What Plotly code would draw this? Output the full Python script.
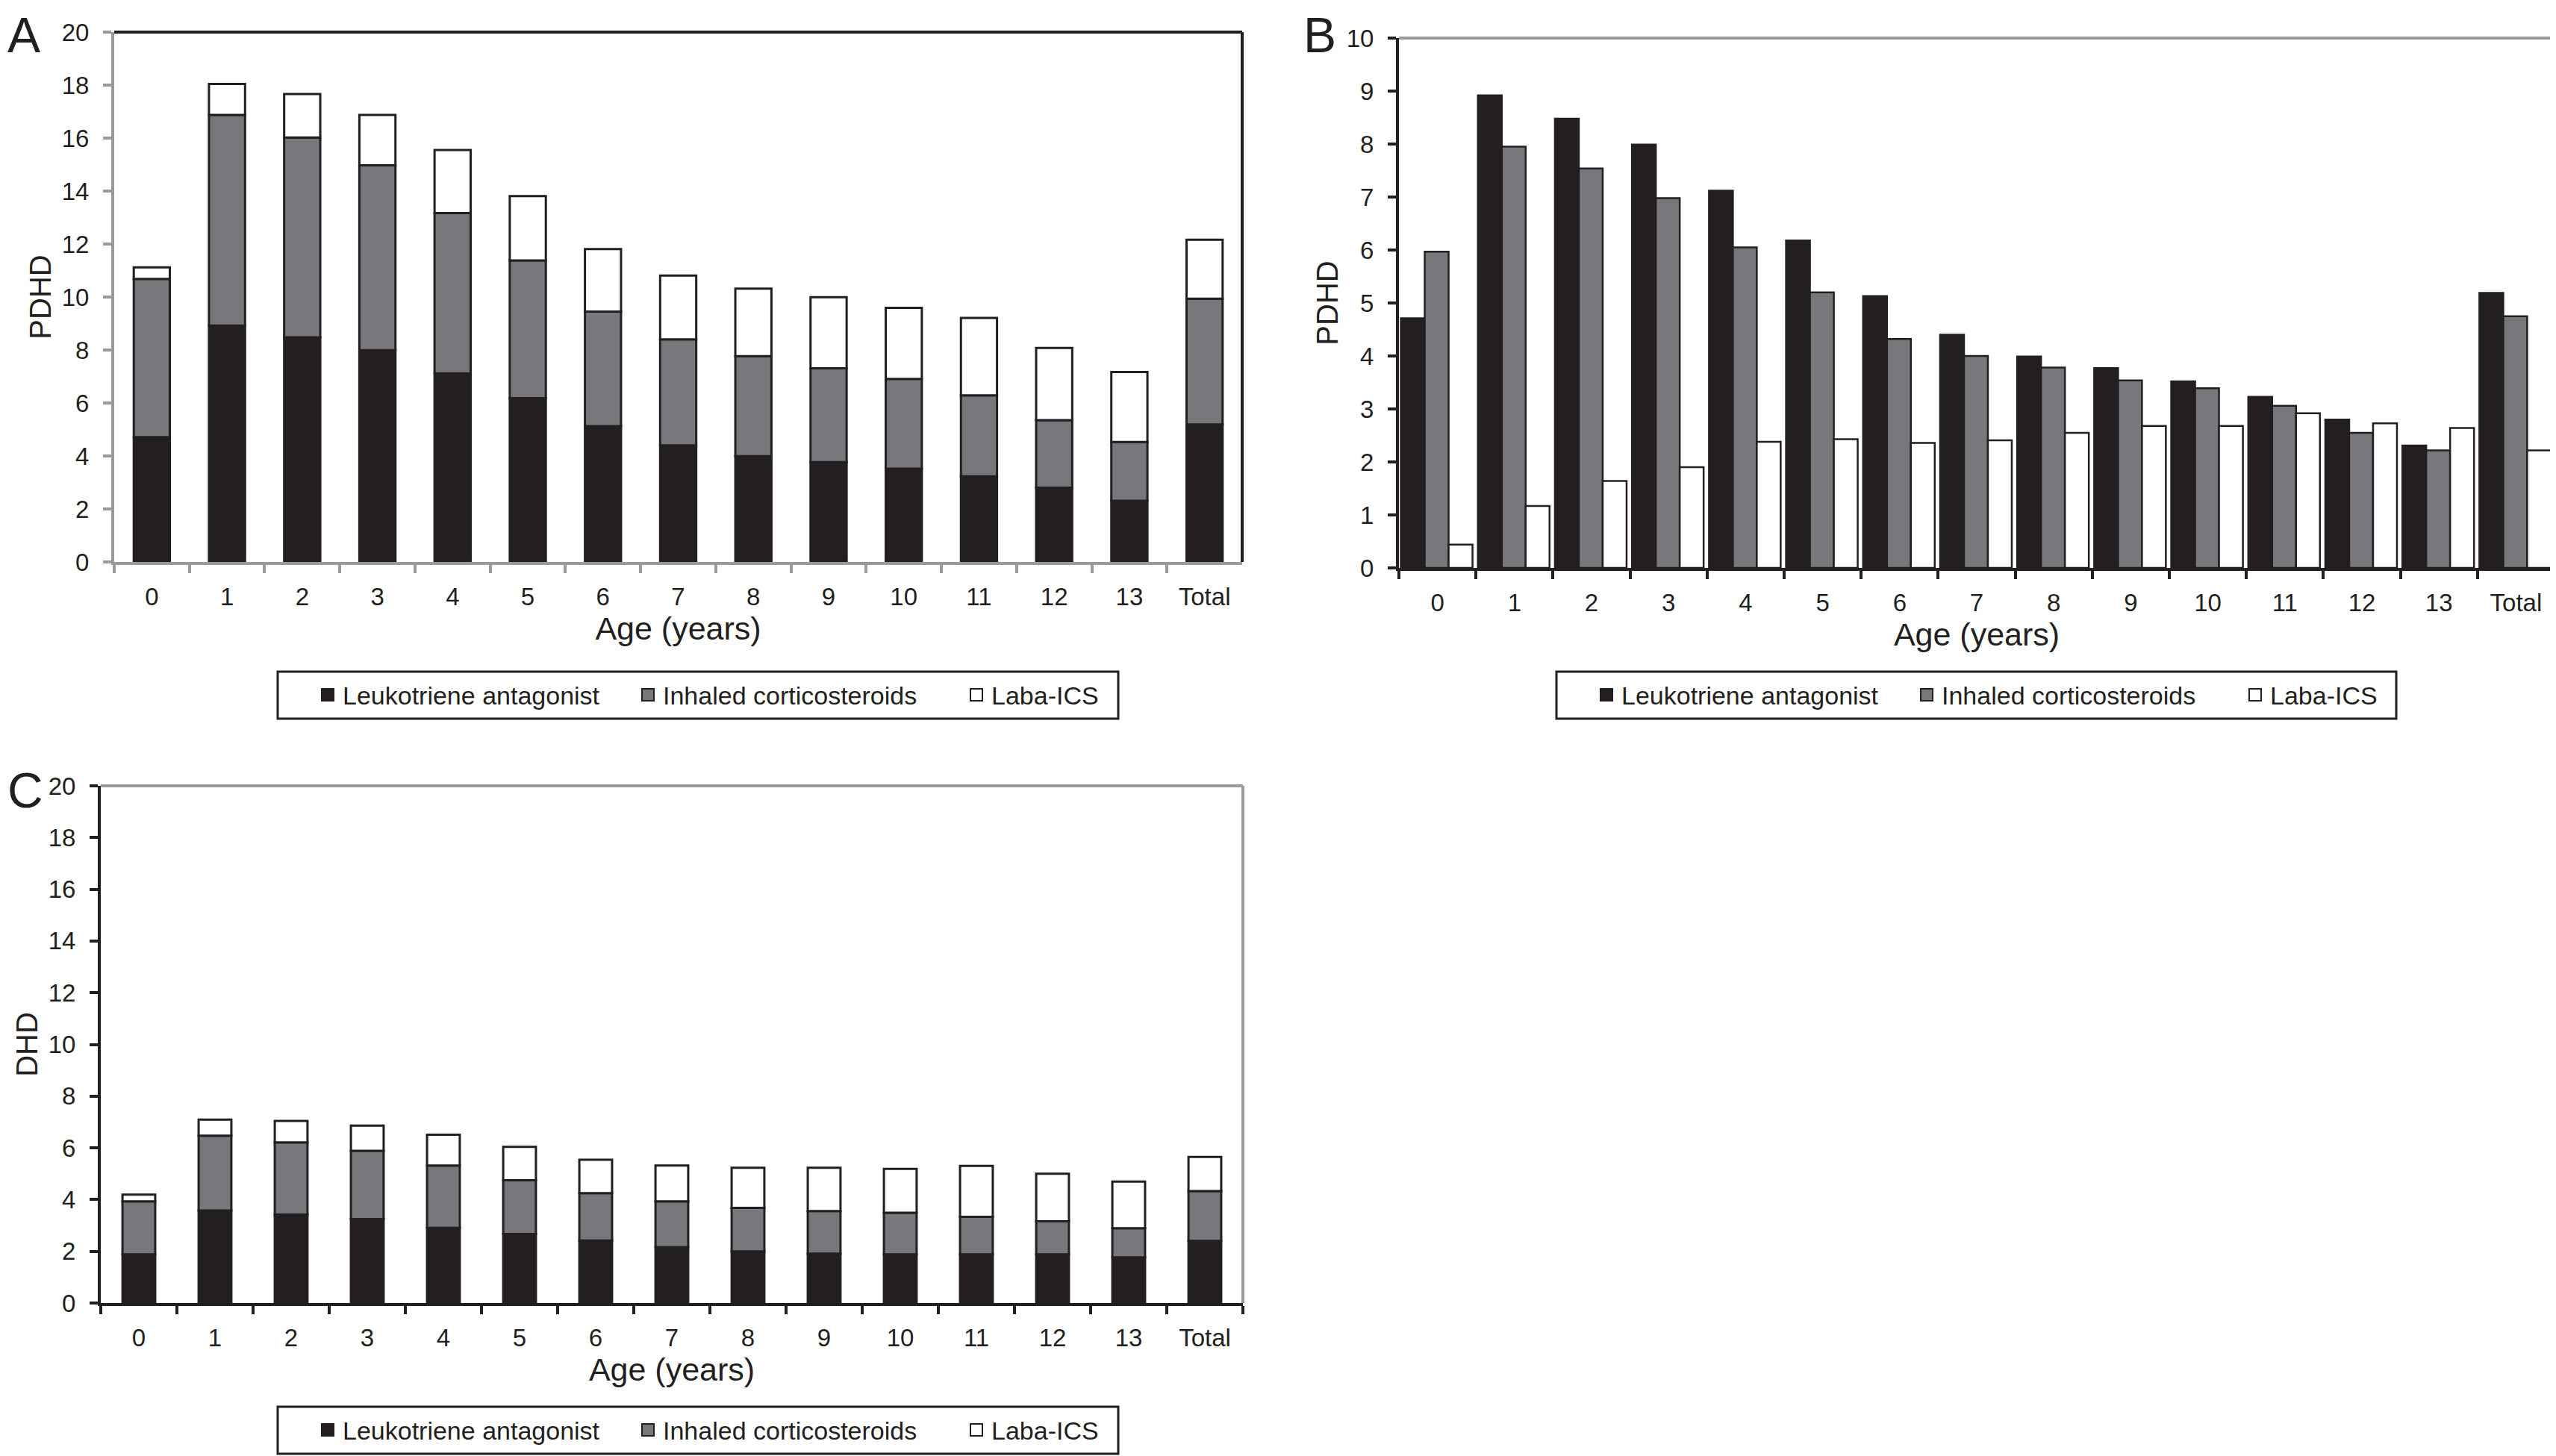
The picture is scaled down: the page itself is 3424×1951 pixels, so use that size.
import plotly.graph_objects as go

# ---------------- data ----------------
ages = ["0", "1", "2", "3", "4", "5", "6", "7", "8", "9", "10", "11", "12", "13", "Total"]
series_names = ["Leukotriene antagonist", "Inhaled corticosteroids", "Laba-ICS"]

# PDHD (panels A stacked, B grouped)
pdhd_lta = [4.71, 8.92, 8.48, 7.99, 7.12, 6.18, 5.13, 4.40, 3.99, 3.77, 3.52, 3.23, 2.80, 2.31, 5.19]
pdhd_ics = [5.97, 7.95, 7.54, 6.98, 6.05, 5.20, 4.32, 4.00, 3.78, 3.54, 3.39, 3.06, 2.55, 2.22, 4.75]
pdhd_laba = [0.44, 1.17, 1.64, 1.90, 2.38, 2.43, 2.36, 2.41, 2.55, 2.68, 2.68, 2.92, 2.73, 2.64, 2.22]

# DHD (panel C stacked)
dhd_lta = [1.88, 3.58, 3.42, 3.25, 2.91, 2.67, 2.42, 2.16, 2.00, 1.91, 1.88, 1.88, 1.88, 1.77, 2.40]
dhd_ics = [2.05, 2.89, 2.79, 2.64, 2.41, 2.08, 1.83, 1.77, 1.68, 1.65, 1.61, 1.45, 1.28, 1.12, 1.93]
dhd_laba = [0.26, 0.62, 0.83, 0.97, 1.19, 1.29, 1.29, 1.39, 1.55, 1.67, 1.70, 1.97, 1.84, 1.81, 1.32]

# ---------------- style ----------------
INK = "#231f20"
GREY = "#77787b"
FRAME = "#9a9a9c"
WHITE = "#ffffff"
FONT = "Liberation Sans, Arial, Helvetica, sans-serif"
fills = [INK, GREY, WHITE]
legend_widths = [384, 395, 150]

OFF = 8                      # page body margin
FW, FH = 3424 - OFF, 1951 - OFF


def px(X):
    return (X - OFF) / FW


def py(Y):
    return 1 - (Y - OFF) / FH


fig = go.Figure()


def legend_entries(xa, ya, legend):
    for name, c, lw in zip(series_names, fills, legend_widths):
        fig.add_trace(go.Scatter(
            x=[None], y=[None], mode="markers", name=name, xaxis=xa, yaxis=ya,
            marker=dict(symbol="square", size=16, color=c, line=dict(color=INK, width=2)),
            legend=legend, legendwidth=lw, showlegend=True, hoverinfo="skip"))


def stacked(xa, ya, vals, legend, width):
    base = [0.0] * len(ages)
    for name, v, c in zip(series_names, vals, fills):
        fig.add_trace(go.Bar(
            x=ages, y=v, base=list(base), name=name, xaxis=xa, yaxis=ya,
            width=width, marker=dict(color=c, line=dict(color=INK, width=3)),
            showlegend=False))
        base = [b + y for b, y in zip(base, v)]
    legend_entries(xa, ya, legend)


stacked("x", "y", [pdhd_lta, pdhd_ics, pdhd_laba], "legend", 0.48)
stacked("x3", "y3", [dhd_lta, dhd_ics, dhd_laba], "legend3", 0.43)

bw = 0.31
for i, (name, v, c) in enumerate(zip(series_names, [pdhd_lta, pdhd_ics, pdhd_laba], fills)):
    fig.add_trace(go.Bar(
        x=ages, y=v, name=name, xaxis="x2", yaxis="y2",
        width=bw, offset=-0.475 + i * bw,
        marker=dict(color=c, line=dict(color=INK, width=2.5)),
        showlegend=False))
legend_entries("x2", "y2", "legend2")


def xaxis(domain, anchor, linecolor):
    return dict(domain=domain, anchor=anchor, type="category",
                showline=True, linecolor=linecolor, linewidth=4,
                ticks="outside", tickson="boundaries", ticklen=11, tickwidth=4,
                tickcolor=linecolor, showgrid=False, zeroline=False,
                ticklabelstandoff=14,
                tickfont=dict(family=FONT, size=33, color=INK),
                title=dict(text="Age (years)", font=dict(family=FONT, size=43, color=INK),
                           standoff=10),
                range=[-0.5, 14.5], fixedrange=True)


def yaxis(domain, anchor, rng, dtick, linecolor, title, standoff):
    return dict(domain=domain, anchor=anchor, range=rng, dtick=dtick,
                showline=True, linecolor=linecolor, linewidth=4,
                ticks="outside", ticklen=11, tickwidth=4, tickcolor=linecolor,
                showgrid=False, zeroline=False, ticklabelstandoff=12,
                tickfont=dict(family=FONT, size=33, color=INK),
                title=dict(text=title, font=dict(family=FONT, size=40, color=INK),
                           standoff=standoff),
                fixedrange=True)


xA = [px(153), px(1664)]
yA = [py(753), py(43)]
xB = [px(1874), px(3422)]
yB = [py(761), py(51)]
xC = [px(135), px(1665)]
yC = [py(1746), py(1053)]

legend_common = dict(orientation="h", xanchor="left", yanchor="middle",
                     borderwidth=0, bgcolor="rgba(0,0,0,0)",
                     font=dict(family=FONT, size=34, color=INK),
                     itemsizing="trace",
                     itemclick=False, itemdoubleclick=False, tracegroupgap=0)

shapes = []
for xr, yr, col in [("x", "y", INK), ("x2", "y2", FRAME), ("x3", "y3", FRAME)]:
    shapes.append(dict(type="line", xref=xr + " domain", yref=yr + " domain",
                       x0=0, x1=1, y0=1, y1=1, line=dict(color=col, width=4)))
    shapes.append(dict(type="line", xref=xr + " domain", yref=yr + " domain",
                       x0=1, x1=1, y0=0, y1=1, line=dict(color=col, width=4)))
# legend frames
for x0, x1, y0, y1 in [(372, 1498, 900, 963), (2085, 3210, 900, 963), (372, 1498, 1885, 1948)]:
    shapes.append(dict(type="rect", xref="paper", yref="paper",
                       x0=px(x0), x1=px(x1), y0=py(y1), y1=py(y0),
                       line=dict(color=INK, width=3), fillcolor=WHITE, layer="below"))

annotations = []
for letter, X, Y, anchor in [("A", 8, 8, "top"), ("B", 1744, 8, "top"), ("C", 8, 1059, "middle")]:
    annotations.append(dict(text=letter, x=px(X), y=py(Y), xref="paper", yref="paper",
                            xanchor="left", yanchor=anchor, showarrow=False,
                            font=dict(family=FONT, size=66, color=INK)))

fig.update_layout(
    width=FW, height=FH, margin=dict(l=0, r=0, t=0, b=0, autoexpand=False),
    paper_bgcolor=WHITE, plot_bgcolor=WHITE, barmode="overlay",
    xaxis=xaxis(xA, "y", FRAME),
    yaxis=yaxis(yA, "x", [0, 20], 2, FRAME, "PDHD", 3),
    xaxis2=xaxis(xB, "y2", INK),
    yaxis2=yaxis(yB, "x2", [0, 10], 1, INK, "PDHD", 0),
    xaxis3=xaxis(xC, "y3", INK),
    yaxis3=yaxis(yC, "x3", [0, 20], 2, INK, "DHD", 3),
    legend=dict(x=px(419), y=py(931.5), **legend_common),
    legend2=dict(x=px(2132), y=py(931.5), **legend_common),
    legend3=dict(x=px(419), y=py(1916.5), **legend_common),
    shapes=shapes, annotations=annotations, showlegend=True,
)

fig.write_html("out.html")
